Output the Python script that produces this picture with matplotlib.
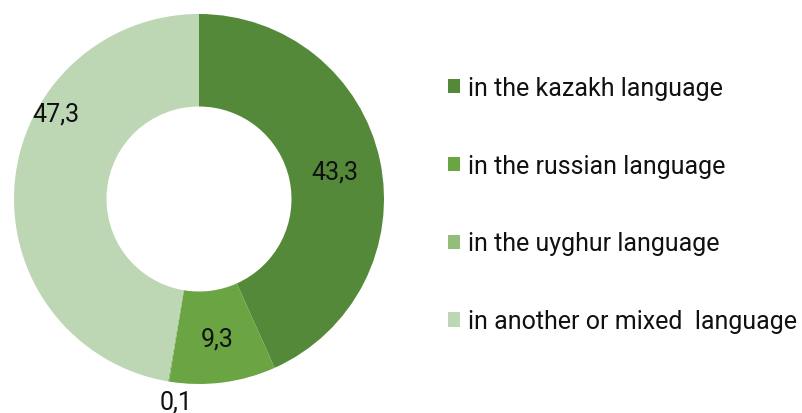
import numpy as np
import matplotlib.pyplot as plt
from matplotlib.patches import Patch

categories = ["in the kazakh language", "in the russian language",
              "in the uyghur language", "in another or mixed  language"]
values = [43.3, 9.3, 0.1, 47.3]
value_labels = ["43,3", "9,3", "0,1", "47,3"]

colors = ["#548939", "#6aa443", "#93bd7a", "#bdd6b4"]
# label placement (radius, angle offset in degrees from wedge middle)
label_pos = [(0.75, -0.5), (0.76, 0.0), (1.10, 3.0), (0.90, -26.0)]

plt.rcParams['font.family'] = ['Roboto', 'DejaVu Sans']

fig = plt.figure(figsize=(8.03, 4.14), dpi=100)
W, H = 803, 414
cx, cy, R = 199, 200, 185
ax = fig.add_axes([(cx - R) / W, (H - cy - R) / H, 2 * R / W, 2 * R / H])
wedges, _ = ax.pie(values, colors=colors, startangle=90, counterclock=False,
                   radius=1.0, wedgeprops=dict(width=0.5, linewidth=0))
ax.set_xlim(-1, 1)
ax.set_ylim(-1, 1)
ax.set_aspect('equal')
ax.axis('off')

for w, lab, (r, off) in zip(wedges, value_labels, label_pos):
    mid = np.deg2rad((w.theta1 + w.theta2) / 2 + off)
    ax.text(r * np.cos(mid), r * np.sin(mid), lab, ha='center', va='center',
            fontsize=18, color='#111111', clip_on=False)

handles = [Patch(facecolor=c, edgecolor='none') for c in colors]
leg = fig.legend(handles, categories, loc='upper left',
                 bbox_to_anchor=(448 / W, 1 - 77 / H), frameon=False,
                 fontsize=18, labelspacing=2.15, handlelength=0.5,
                 handleheight=0.5, handletextpad=0.32, borderaxespad=0,
                 borderpad=0)
for t in leg.get_texts():
    t.set_color('#111111')

fig.savefig("out.png", dpi=100)
